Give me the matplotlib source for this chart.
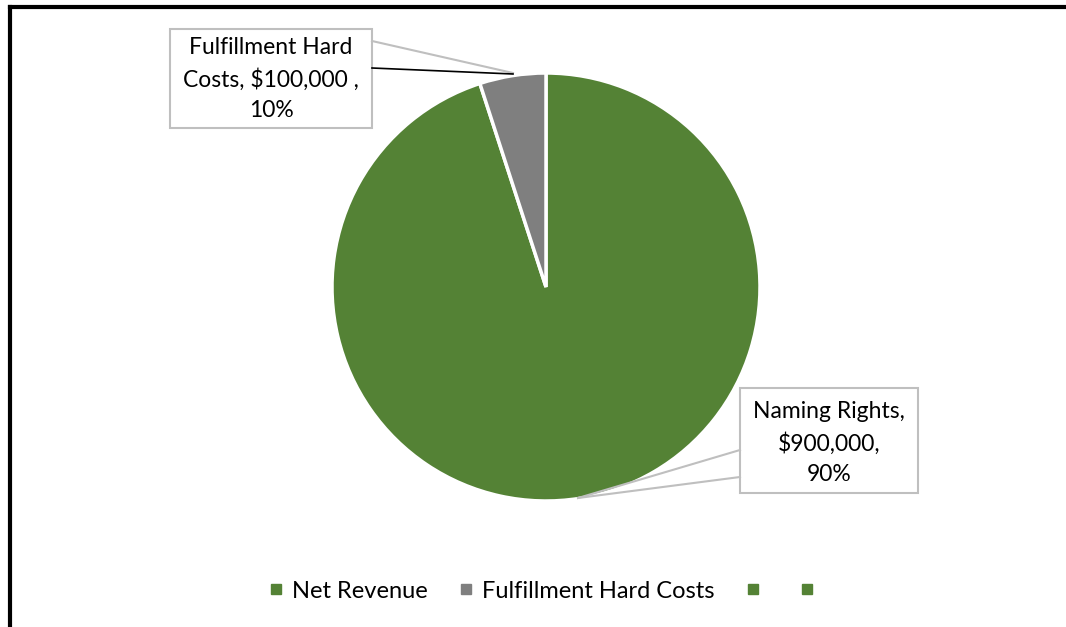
import matplotlib.pyplot as plt
from matplotlib.lines import Line2D
from matplotlib.patches import Rectangle

# slice shares as drawn in the chart (percent of the circle)
slice_names = ['Net Revenue', 'Fulfillment Hard Costs']
slice_shares = [95, 5]
slice_colors = ['#548235', '#7f7f7f']

# legend entries (two unnamed series at the end)
legend_names = ['Net Revenue', 'Fulfillment Hard Costs', '', '']
legend_colors = ['#548235', '#7f7f7f', '#548235', '#548235']

label_naming = 'Naming Rights,\n$900,000,\n90%'
label_fulfill = 'Fulfillment Hard\nCosts, $100,000 ,\n10%'

W, H = 1066, 627
plt.rcParams['font.family'] = ['Lato', 'DejaVu Sans']

fig = plt.figure(figsize=(W / 100, H / 100), dpi=100)


def fx(x):
    return x / W


def fy(y):
    return 1 - y / H


# pie centred at (546, 287) px, radius 214 px
cx, cy, r = 546, 287, 214
ax = fig.add_axes([fx(cx - r), fy(cy + r), 2 * r / W, 2 * r / H])
ax.pie(slice_shares, colors=slice_colors, startangle=90, counterclock=False,
       radius=1, wedgeprops=dict(edgecolor='white', linewidth=2.5))
ax.set_xlim(-1, 1)
ax.set_ylim(-1, 1)
ax.set_aspect('auto')
ax.axis('off')

# chart border (top and left only visible)
fig.add_artist(Line2D([fx(10), fx(10)], [fy(7), 0], color='black', lw=3))
fig.add_artist(Line2D([fx(10), 1], [fy(7), fy(7)], color='black', lw=3))

box_col = '#bfbfbf'

# Fulfillment callout
fig.add_artist(Line2D([fx(372), fx(513)], [fy(41), fy(73)], color=box_col, lw=1.5))
fig.add_artist(Line2D([fx(372), fx(513)], [fy(68), fy(74)], color='black', lw=1.2))
fig.add_artist(Rectangle((fx(170), fy(128)), fx(202), 99 / H, transform=fig.transFigure,
                         facecolor='white', edgecolor=box_col, lw=1.5))
fig.text(fx(271), fy(79), label_fulfill, ha='center', va='center', fontsize=16.5,
         linespacing=1.55)

# Naming Rights callout
fig.add_artist(Line2D([fx(740), fx(578)], [fy(450), fy(498)], color=box_col, lw=1.5))
fig.add_artist(Line2D([fx(740), fx(578)], [fy(477), fy(498)], color=box_col, lw=1.5))
fig.add_artist(Rectangle((fx(740), fy(493)), fx(178), 105 / H, transform=fig.transFigure,
                         facecolor='white', edgecolor=box_col, lw=1.5))
fig.text(fx(829), fy(443), label_naming, ha='center', va='center', fontsize=16.5,
         linespacing=1.55)

handles = [Line2D([], [], marker='s', linestyle='none', markersize=7,
                  markerfacecolor=c, markeredgecolor=c) for c in legend_colors]
fig.legend(handles, legend_names, loc='center', bbox_to_anchor=(fx(546), fy(591)),
           ncol=4, frameon=False, fontsize=17, handlelength=0.6, handletextpad=0.35,
           columnspacing=1.35)

fig.savefig('out.png', dpi=100)
